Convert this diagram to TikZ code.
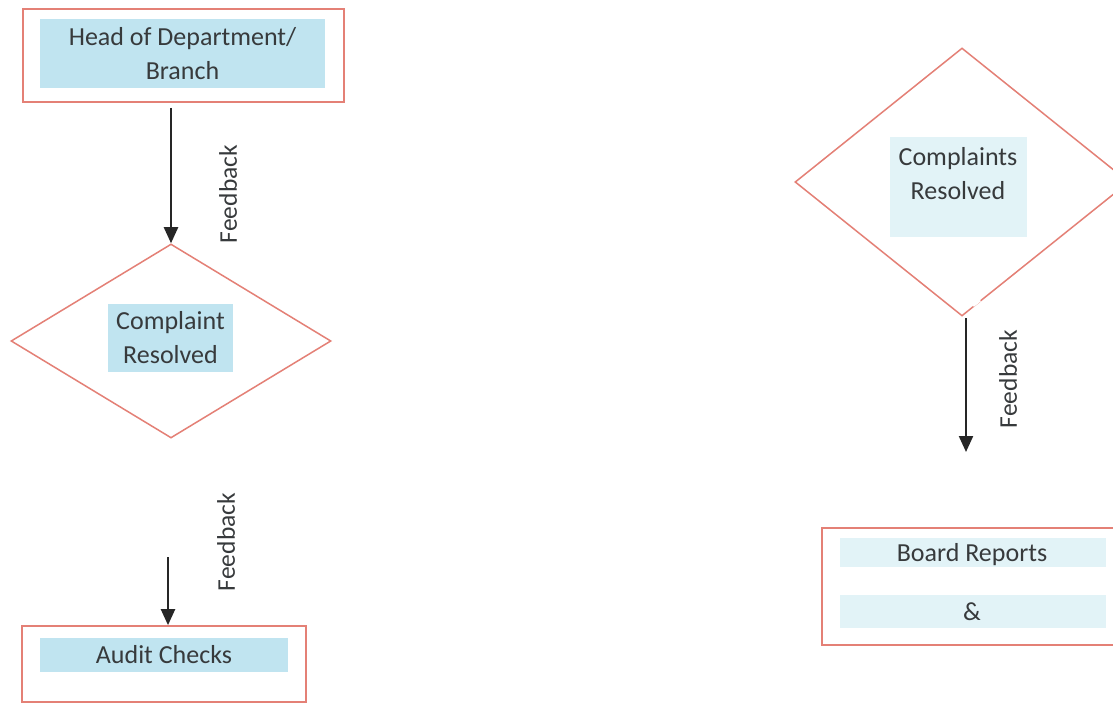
\documentclass[tikz,border=0pt]{standalone}
\usepackage{fontspec}
\setmainfont{Carlito}
\usetikzlibrary{arrows.meta,shapes.geometric}
\definecolor{bord}{RGB}{228,128,118}
\definecolor{bluefill}{RGB}{192,228,240}
\definecolor{palefill}{RGB}{226,243,247}
\definecolor{txt}{RGB}{55,58,60}
\begin{document}
\begin{tikzpicture}[x=1pt,y=-1pt,
 box/.style={draw=bord,line width=1.7pt,rectangle,inner sep=0},
 dia/.style={draw=bord,line width=1.5pt,diamond,inner sep=0},
 lbl/.style={font=\fontsize{26}{34}\selectfont,text=txt,align=center,inner sep=0},
 fb/.style={font=\fontsize{25.5}{28}\selectfont,text=txt,rotate=90,inner sep=0},
 arr/.style={line width=2.2pt,black!85,-{Triangle[width=14pt,length=16pt]}}]
\useasboundingbox (0,0) rectangle (1113,703);
\clip (0,0) rectangle (1113,703);
\fill[white] (0,0) rectangle (1113,703);
% left column
\node[box,minimum width=321pt,minimum height=93pt] (head) at (183.5,55.5) {};
\node[lbl,fill=bluefill,minimum width=285pt,minimum height=69pt] (headlbl) at (182.5,53.5) {Head of Department/\\Branch};
\node[dia,minimum width=320pt,minimum height=194pt] (dia1) at (171,341) {};
\node[lbl,fill=bluefill,minimum width=125pt,minimum height=68pt] (dia1lbl) at (170.5,338) {Complaint\\Resolved};
\draw[arr] ([yshift=-5pt]head.south -| dia1.north) -- (dia1.north);
\node[fb] (fb1) at (228,194) {Feedback};
\node[box,minimum width=284pt,minimum height=76pt] (audit) at (164,664) {};
\node[lbl,fill=bluefill,minimum width=248pt,minimum height=34pt] (auditlbl) at (164,655) {Audit Checks};
\coordinate (a2) at (168,557);
\draw[arr] (a2) -- (a2 |- audit.north);
\node[fb] (fb2) at (226,542) {Feedback};
% right column
\node[dia,minimum width=334pt,minimum height=268pt] (dia2) at (962,182) {};
\draw[white,line width=3pt] (973,305.7) -- (980,300.1);
\fill[palefill] (890,137) rectangle (1027,237);
\node[lbl] (dia2lbl) at (958,174) {Complaints\\Resolved};
\coordinate (a3s) at (966,318);
\coordinate (a3e) at (966,452);
\draw[arr] (a3s) -- (a3e);
\node[fb] (fb3) at (1008,379) {Feedback};
\node[box,minimum width=302pt,minimum height=117pt] (board) at (973,586.5) {};
\fill[palefill] (840,538) rectangle (1106,567);
\fill[palefill] (840,595) rectangle (1106,628);
\node[lbl] (board1) at (972,555) {Board Reports};
\node[lbl] (board2) at (972,612) {\&};
\end{tikzpicture}
\end{document}
